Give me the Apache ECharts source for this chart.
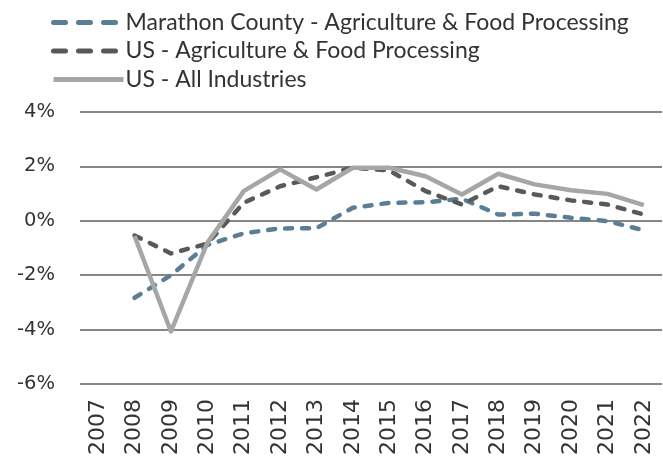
<!DOCTYPE html>
<html>
<head>
<meta charset="utf-8">
<script src="https://cdn.jsdelivr.net/npm/echarts@6/dist/echarts.min.js"></script>
<style>
  html, body { margin: 0; padding: 0; background: #fff; }
  #chart { width: 663px; height: 458px; }
</style>
</head>
<body>
<div id="chart"></div>
<script>
// Annual employment growth (%), 2007–2022
const years = ['2007','2008','2009','2010','2011','2012','2013','2014','2015','2016','2017','2018','2019','2020','2021','2022'];
const marathonAgFood = [null, -2.83, -2.0, -0.89, -0.46, -0.28, -0.27, 0.48, 0.66, 0.68, 0.81, 0.23, 0.26, 0.11, -0.01, -0.35];
const usAgFood       = [null, -0.54, -1.2, -0.84, 0.66, 1.27, 1.6, 1.95, 1.85, 1.09, 0.6, 1.27, 0.97, 0.75, 0.6, 0.23];
const usAllIndustries = [null, -0.56, -4.07, -0.81, 1.09, 1.89, 1.15, 1.95, 1.95, 1.64, 0.97, 1.73, 1.34, 1.12, 0.99, 0.58];
const yTicks = [-6, -4, -2, 0, 2, 4];

const seriesNames = [
  'Marathon County - Agriculture & Food Processing',
  'US - Agriculture & Food Processing',
  'US - All Industries'
];
const colors = ['#5a7f94', '#595959', '#a6a6a6'];
const dashedFlags = [true, true, false];
const seriesData = [marathonAgFood, usAgFood, usAllIndustries];

const chart = echarts.init(document.getElementById('chart'));

function lineSeries(i) {
  const dashed = dashedFlags[i];
  return {
    name: seriesNames[i],
    type: 'line',
    data: seriesData[i],
    symbol: 'none',
    connectNulls: false,
    lineStyle: {
      color: colors[i],
      width: 4.5,
      type: dashed ? [7, 10] : 'solid',
      cap: dashed ? 'round' : 'butt',
      join: 'round'
    },
    itemStyle: { color: colors[i] }
  };
}

chart.setOption({
  animation: false,
  legend: {
    orient: 'vertical',
    left: 46,
    top: 6,
    itemWidth: 70,
    itemHeight: 14,
    itemGap: 5.5,
    itemStyle: { opacity: 0 },
    textStyle: { fontSize: 23, color: '#333333', fontFamily: 'Lato', padding: [0, 0, 0, -3] },
    data: seriesNames.map((n, i) => ({
      name: n,
      lineStyle: {
        width: 5,
        type: dashedFlags[i] ? [12, 13] : 'solid',
        cap: dashedFlags[i] ? 'round' : 'butt'
      }
    }))
  },
  grid: { left: 80, right: 1, top: 112, bottom: 73.5, containLabel: false },
  xAxis: {
    type: 'category',
    data: years,
    boundaryGap: true,
    axisLine: { show: false },
    axisTick: { show: false },
    axisLabel: {
      rotate: 90,
      margin: 15,
      fontSize: 22,
      color: '#333333',
      fontFamily: 'DejaVu Sans',
      interval: 0
    }
  },
  yAxis: {
    type: 'value',
    min: yTicks[0],
    max: yTicks[yTicks.length - 1],
    interval: 2,
    axisLine: { show: false },
    axisTick: { show: false },
    splitLine: { lineStyle: { color: '#868686', width: 2 } },
    axisLabel: {
      margin: 25,
      fontSize: 19.5,
      color: '#333333',
      fontFamily: 'DejaVu Sans',
      formatter: v => v + '%'
    }
  },
  series: [lineSeries(0), lineSeries(1), lineSeries(2)]
});
</script>
</body>
</html>
